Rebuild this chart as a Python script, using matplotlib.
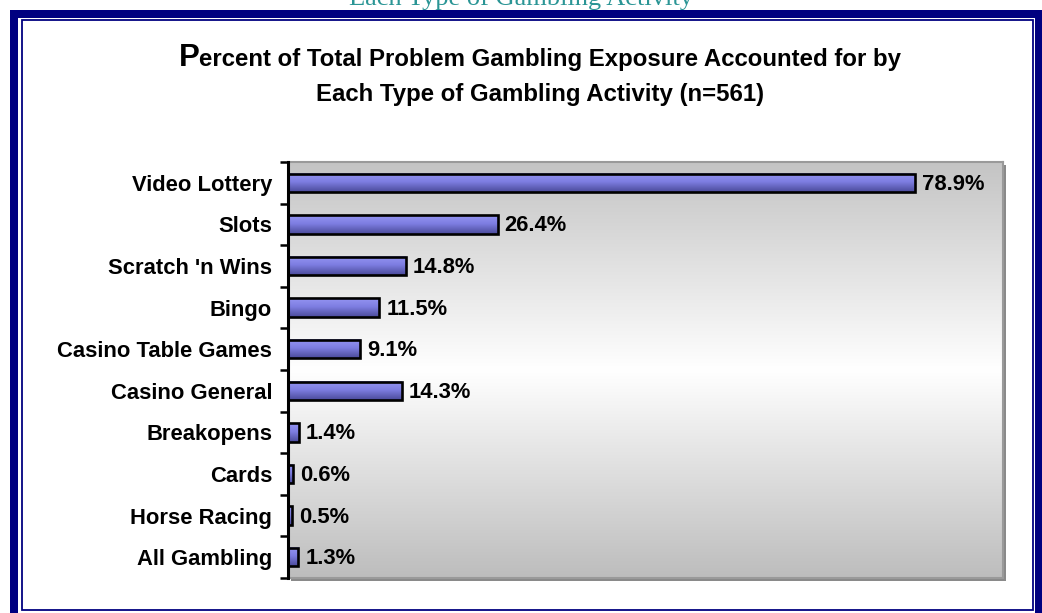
import numpy as np
import matplotlib
matplotlib.use("Agg")
import matplotlib.pyplot as plt
from matplotlib.patches import Rectangle
from matplotlib.colors import LinearSegmentedColormap

# Data
categories = ["Video Lottery", "Slots", "Scratch 'n Wins", "Bingo",
              "Casino Table Games", "Casino General", "Breakopens", "Cards",
              "Horse Racing", "All Gambling"]
percent = [78.9, 26.4, 14.8, 11.5, 9.1, 14.3, 1.4, 0.6, 0.5, 1.3]

title_first = "P"
title_line1 = "ercent of Total Problem Gambling Exposure Accounted for by"
title_line2 = "Each Type of Gambling Activity (n=561)"
header_text = "Each Type of Gambling Activity"

W, H = 1042, 613
DPI = 100
fig = plt.figure(figsize=(W / DPI, H / DPI), dpi=DPI, facecolor="white")

SANS = ["Liberation Sans", "DejaVu Sans"]
SERIF = ["Liberation Serif", "DejaVu Serif"]
NAVY = "#000080"
LABEL_SIZE = 15.8
TITLE_SIZE = 17.3


def fx(px):
    return px / W


def fy(py):
    return 1 - py / H


# Page frame: thick outer border and thin inner border
fig.add_artist(Rectangle((fx(14), fy(640)), fx(1039) - fx(14), fy(14) - fy(640),
                         transform=fig.transFigure, fill=False,
                         edgecolor=NAVY, lw=8 * 72 / DPI, zorder=5))
fig.add_artist(Rectangle((fx(21.5), fy(610)), fx(1033) - fx(21.5), fy(20) - fy(610),
                         transform=fig.transFigure, fill=False,
                         edgecolor=NAVY, lw=1.8 * 72 / DPI, zorder=5))

# Running header above the frame (partly cut off by the page edge)
fig.text(fx(521), fy(4.5), header_text, ha="center", va="baseline",
         fontsize=19, color="#2a9595", family=SERIF)

# Plot area
L, R, T, B = 288, 1003, 162, 578
# drop shadow behind the plot area
fig.add_artist(Rectangle((fx(L + 3), fy(B + 3)), fx(R) - fx(L), fy(T) - fy(B),
                         transform=fig.transFigure, facecolor="#8a8a8a",
                         edgecolor="none", zorder=0))
ax = fig.add_axes([fx(L), fy(B), fx(R) - fx(L), fy(T) - fy(B)], zorder=1)

n = len(categories)
y = np.arange(n)
xmax = 90

# vertical grey-white-grey background gradient
bg_cmap = LinearSegmentedColormap.from_list(
    "bg", [(0, "#c4c4c4"), (0.5, "#ffffff"), (1, "#bdbdbd")])
grad = np.linspace(0, 1, 256).reshape(-1, 1)
ax.imshow(grad, cmap=bg_cmap, extent=[0, xmax, n - 0.5, -0.5],
          aspect="auto", zorder=0, interpolation="bilinear")

# bars with a top-to-bottom shading
bar_h = 0.44
bar_cmap = LinearSegmentedColormap.from_list(
    "bar", [(0, "#9595f2"), (0.45, "#7e7ee2"), (1, "#4a4a9a")])
for yi, v in zip(y, percent):
    ax.imshow(grad, cmap=bar_cmap, extent=[0, v, yi + bar_h / 2, yi - bar_h / 2],
              aspect="auto", zorder=2, interpolation="bilinear")
ax.barh(y, percent, height=bar_h, facecolor="none", edgecolor="black",
        linewidth=1.9, zorder=3)

# value labels
for yi, v in zip(y, percent):
    ax.annotate(f"{v:.1f}%", xy=(v, yi), xytext=(7, -1.5), textcoords="offset pixels",
                ha="left", va="center", fontsize=LABEL_SIZE, fontweight="bold",
                family=SANS, zorder=4)

ax.set_xlim(0, xmax)
ax.set_ylim(n - 0.5, -0.5)
ax.set_xticks([])
ax.set_yticks(y)
ax.set_yticklabels(categories, fontsize=LABEL_SIZE, fontweight="bold", family=SANS)
ax.tick_params(axis="y", which="major", length=0, pad=11.5)
ax.set_yticks(np.arange(-0.5, n, 1), minor=True)
ax.tick_params(axis="y", which="minor", length=6, width=1.8, color="black",
               direction="out")

for side in ["top", "right", "bottom"]:
    ax.spines[side].set_color("#9a9a9a")
    ax.spines[side].set_linewidth(1.5)
ax.spines["left"].set_color("black")
ax.spines["left"].set_linewidth(2.2)
ax.spines["left"].set_zorder(5)

# Two-line title with an enlarged first letter
fig.canvas.draw()
renderer = fig.canvas.get_renderer()
tp = fig.text(0, fy(66), title_first, ha="left", va="baseline", fontsize=22.5,
              fontweight="bold", family=SANS)
tr = fig.text(0, fy(66), title_line1, ha="left", va="baseline", fontsize=TITLE_SIZE,
              fontweight="bold", family=SANS)
wp = tp.get_window_extent(renderer).width
wr = tr.get_window_extent(renderer).width
x0 = 540 - (wp + wr) / 2
tp.set_x(fx(x0))
tr.set_x(fx(x0 + wp))
fig.text(fx(540), fy(101.5), title_line2, ha="center", va="baseline",
         fontsize=TITLE_SIZE, fontweight="bold", family=SANS)

fig.savefig("out.png", dpi=DPI, facecolor="white")
